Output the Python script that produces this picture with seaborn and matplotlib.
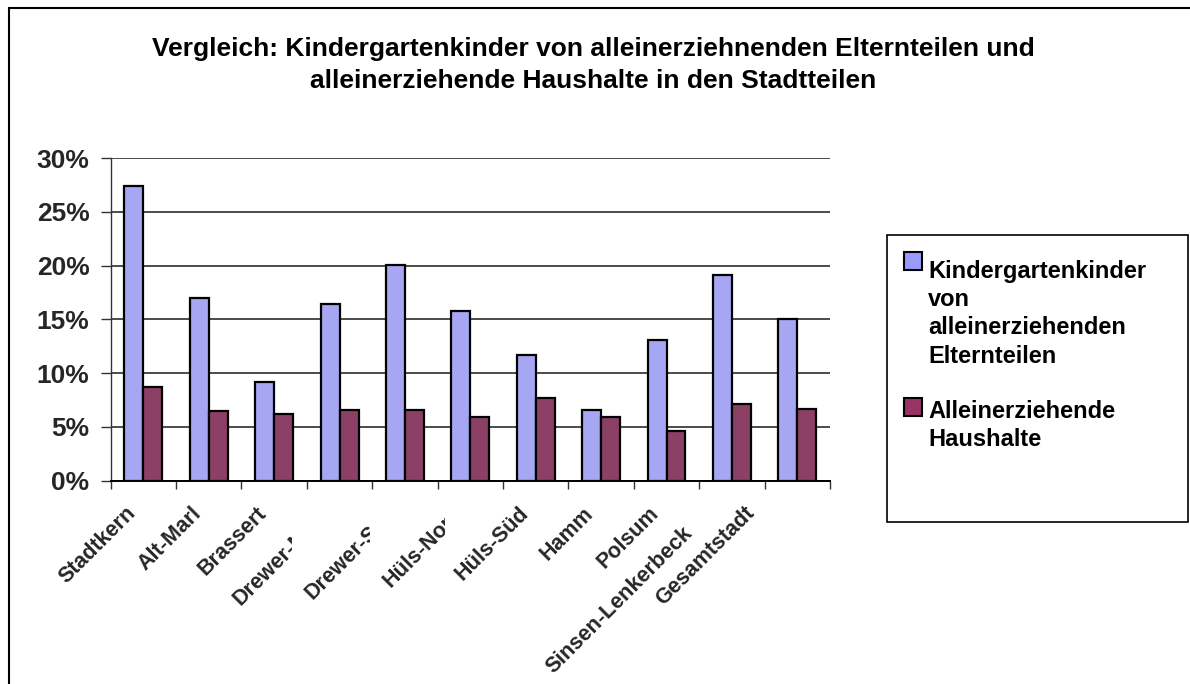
import matplotlib
matplotlib.use("Agg")
import matplotlib.pyplot as plt
import matplotlib.patches as mpatches
from matplotlib.transforms import Bbox, ScaledTranslation
from matplotlib.ticker import FuncFormatter, FixedLocator
import numpy as np
import pandas as pd
import seaborn as sns

# Stadtteile (districts)
stadtteile = ["Stadtkern", "Alt-Marl", "Brassert", "Drewer-Nord", "Drewer-Süd",
              "Hüls-Nord", "Hüls-Süd", "Hamm", "Polsum", "Sinsen-Lenkerbeck",
              "Gesamtstadt"]

# Share in percent
kiga_alleinerziehend = [27.4, 17.0, 9.2, 16.4, 20.1, 15.8, 11.7, 6.6, 13.1, 19.1, 15.0]
haushalte_alleinerziehend = [8.7, 6.5, 6.2, 6.6, 6.6, 5.9, 7.7, 5.9, 4.6, 7.1, 6.7]

serien = ["Kindergartenkinder\nvon\nalleinerziehenden\nElternteilen",
          "Alleinerziehende\nHaushalte"]
farben = ["#9999FF", "#993366"]

titel = ("Vergleich: Kindergartenkinder von alleinerziehnenden Elternteilen und\n"
         "alleinerziehende Haushalte in den Stadtteilen")

df = pd.DataFrame({
    "Stadtteil": stadtteile * 2,
    "Anteil": kiga_alleinerziehend + haushalte_alleinerziehend,
    "Reihe": [serien[0]] * len(stadtteile) + [serien[1]] * len(stadtteile),
})

sns.set_theme(style="white")
plt.rcParams["font.family"] = ["Liberation Sans", "DejaVu Sans"]
plt.rcParams["font.weight"] = "bold"

W, H = 1190, 684
fig = plt.figure(figsize=(W / 100, H / 100), dpi=100)
fig.patch.set_facecolor("white")

ax_left, ax_right, ax_top, ax_bottom = 110.7, 830.0, 158.3, 480.5
ax = fig.add_axes([ax_left / W, (H - ax_bottom) / H,
                   (ax_right - ax_left) / W, (ax_bottom - ax_top) / H])

sns.barplot(data=df, x="Stadtteil", y="Anteil", hue="Reihe",
            order=stadtteile, hue_order=serien, palette=farben,
            width=0.58, edgecolor="black", linewidth=1.6,
            legend=False, ax=ax, zorder=3)

ax.set_xlim(-0.5, len(stadtteile) - 0.5)
ax.set_ylim(0, 30)
ax.set_yticks(np.arange(0, 31, 5))
ax.yaxis.set_major_formatter(FuncFormatter(lambda v, _: f"{v:.0f}%"))
ax.set_xlabel("")
ax.set_ylabel("")

ax.set_axisbelow(True)
ax.yaxis.grid(True, color="#1a1a1a", linewidth=1.1)
ax.xaxis.grid(False)

for s in ("top", "right"):
    ax.spines[s].set_visible(False)
ax.spines["left"].set_color("#333333")
ax.spines["left"].set_linewidth(1.0)
ax.spines["bottom"].set_color("black")
ax.spines["bottom"].set_linewidth(1.4)

ax.tick_params(axis="y", which="major", left=True, length=7.2, width=1.0,
               color="#333333", pad=8, labelsize=19)
ax.xaxis.set_minor_locator(FixedLocator(np.arange(-0.5, len(stadtteile), 1.0)))
ax.tick_params(axis="x", which="minor", bottom=True, length=5.8, width=1.0,
               color="#333333")
ax.tick_params(axis="x", which="major", bottom=False, length=0, pad=16,
               labelsize=15.5)
for lbl in ax.get_yticklabels():
    lbl.set_fontweight("bold")

# rotated district names; some are cut off on the right, the two longest
# ones sit further left / lower
schnitt = {"Drewer-Nord": 292, "Drewer-Süd": 370, "Hüls-Nord": 445}
extra_versatz = {"Sinsen-Lenkerbeck": (-32, -20), "Gesamtstadt": (-35, 0)}
for lbl in ax.get_xticklabels():
    name = lbl.get_text()
    dx, dy = extra_versatz.get(name, (0, 0))
    lbl.set_rotation(45)
    lbl.set_ha("right")
    lbl.set_va("top")
    lbl.set_fontweight("bold")
    lbl.set_transform(lbl.get_transform()
                      + ScaledTranslation((dx - 3) / 100, dy / 100,
                                          fig.dpi_scale_trans))
    if name in schnitt:
        lbl.set_clip_on(True)
        lbl.set_clip_box(Bbox.from_extents(0, 0, schnitt[name], H))

# title
fig.text(593 / W, (H - 65) / H, titel, ha="center", va="center",
         fontsize=19, fontweight="bold", linespacing=1.4, color="black")

# outer chart frame (extends beyond the canvas at right and bottom)
fig.add_artist(mpatches.Rectangle((9 / W, -0.2), 1.2, (H - 8) / H + 0.2,
                                  transform=fig.transFigure, fill=False,
                                  edgecolor="black", linewidth=1.5))

# legend frame and entries
lx0, ly0, lx1, ly1 = 887, 235, 1188, 522
fig.add_artist(mpatches.Rectangle((lx0 / W, (H - ly1) / H), (lx1 - lx0) / W,
                                  (ly1 - ly0) / H, transform=fig.transFigure,
                                  fill=False, edgecolor="black", linewidth=1.2))
zeilenabstand = 29.3
eintraege = [(252, 275), (398, 417)]
for (sq_top, baseline), serie, farbe in zip(eintraege, serien, farben):
    fig.add_artist(mpatches.Rectangle((904 / W, (H - sq_top - 18) / H), 18 / W,
                                      18 / H, transform=fig.transFigure,
                                      facecolor=farbe, edgecolor="black",
                                      linewidth=1.5))
    n_zeilen = serie.count("\n")
    letzte = baseline + n_zeilen * zeilenabstand
    fig.text(928 / W, (H - letzte) / H, serie, ha="left", va="baseline",
             fontsize=17, fontweight="bold", linespacing=1.30, color="black")

fig.savefig("out.png", dpi=100, facecolor="white")
